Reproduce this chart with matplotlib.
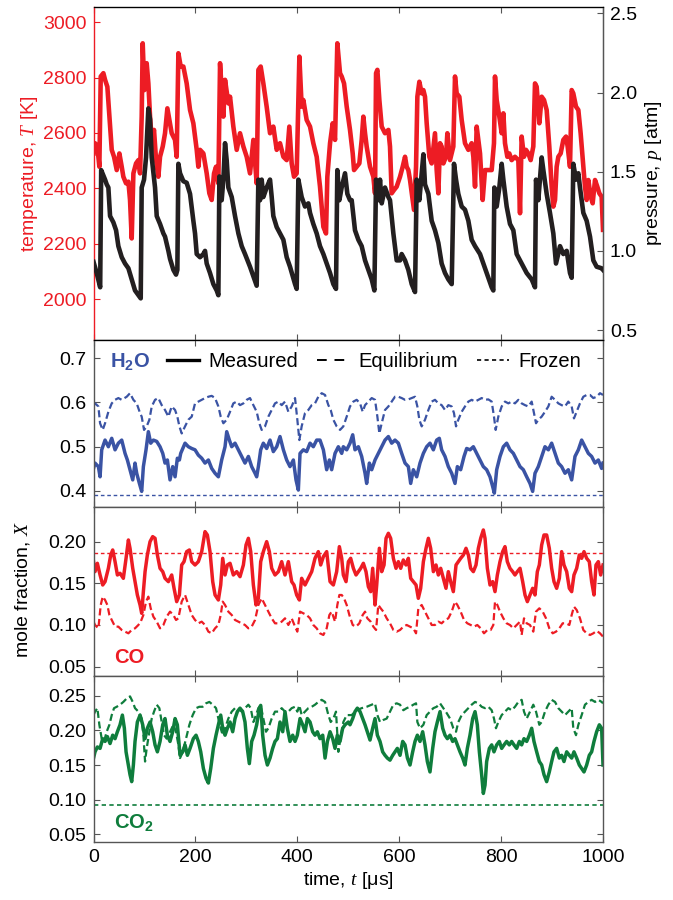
import matplotlib
matplotlib.use('Agg')
import matplotlib.pyplot as plt
from matplotlib.lines import Line2D
import numpy as np

plt.rcParams['font.family'] = ['Liberation Sans', 'DejaVu Sans']
plt.rcParams['mathtext.fontset'] = 'custom'
plt.rcParams['mathtext.it'] = 'Liberation Serif:italic'
plt.rcParams['mathtext.rm'] = 'Liberation Sans'

RED = '#ED1C24'
BLUE = '#3A53A4'
GREEN = '#0F7D3C'
BLACK = '#231F20'

# ---- temperature, T [K] (measured)
t_T = [0, 2.9, 7.5, 11.4, 14.1, 19.3, 22.6, 27.1, 31.1, 35.7, 40.2, 45.5, 50.7, 55.3, 58.5, 63.8, 68.4,
       71.6, 74.9, 78.2, 83.4, 88.0, 91.3, 94.5, 96.5, 99.8, 104.3, 107.6, 110.9, 114.2, 118.7, 122.7,
       127.2, 130.5, 135.8, 140.3, 144.9, 148.8, 153.4, 159.9, 163.2, 166.5, 171.1, 176.3, 182.8, 189.4,
       195.9, 202.5, 205.7, 209.0, 215.6, 222.1, 227.3, 231.9, 236.5, 240.4, 245.0, 248.3, 251.5, 254.8,
       258.1, 264.6, 267.9, 274.4, 281.0, 287.5, 294.1, 300.6, 307.1, 313.7, 320.2, 323.5, 328.1, 333.3,
       339.8, 346.4, 352.9, 359.5, 366.0, 372.6, 379.1, 384.3, 388.9, 393.5, 398.7, 404.0, 408.5, 411.8,
       418.3, 424.9, 431.4, 438.0, 444.5, 451.1, 456.3, 458.9, 464.2, 469.4, 474.0, 478.5, 483.8,
       487.1, 491.7, 496.9, 503.4, 508.7, 511.3, 516.5, 521.7, 526.3, 529.6, 532.9, 536.1, 542.7, 549.2,
       552.5, 554.5, 557.1, 561.0, 565.6, 572.1, 578.7, 581.9, 585.2, 589.8, 595.0, 601.6, 606.8, 611.4,
       614.6, 617.9, 621.2, 626.4, 629.0, 633.0, 635.6, 639.5, 644.1, 647.4, 650.6, 653.9, 659.1, 663.7,
       670.2, 673.5, 676.8, 680.1, 683.3, 686.6, 691.8, 694.5, 699.7, 706.2, 709.5, 712.8, 718.0, 722.6,
       729.1, 735.7, 742.2, 745.5, 748.8, 752.0, 758.6, 763.8, 768.4, 774.9, 781.5, 786.0, 788.0, 791.3,
       796.5, 801.1, 804.4, 807.6, 812.2, 816.1, 820.7, 827.2, 833.8, 837.1, 840.3, 844.9, 848.8, 853.4,
       858.0, 863.2, 866.5, 869.8, 875.0, 879.6, 884.2, 889.4, 894.6, 899.2, 902.5, 905.8, 909.0, 912.3,
       916.9, 922.1, 927.4, 930.6, 935.2, 938.5, 941.7, 947.0, 951.6, 956.1, 961.4, 964.6, 967.9, 971.2,
       975.8, 979.7, 984.3, 988.8, 992.8, 997.3, 1000]
T_meas = [2526, 2563, 2551, 2478, 2804, 2816, 2792, 2767, 2659, 2539, 2514, 2466, 2526, 2478, 2442, 2418,
          2424, 2358, 2219, 2454, 2490, 2502, 2454, 2659, 2924, 2755, 2852, 2779, 2659, 2575, 2611, 2502,
          2442, 2514, 2551, 2599, 2689, 2647, 2599, 2575, 2514, 2888, 2840, 2840, 2779, 2683, 2635, 2539,
          2478, 2539, 2526, 2454, 2382, 2358, 2454, 2478, 2418, 2852, 2755, 2659, 2792, 2707, 2731, 2623,
          2539, 2599, 2551, 2514, 2454, 2575, 2418, 2828, 2840, 2779, 2695, 2599, 2623, 2539, 2563, 2514,
          2502, 2623, 2490, 2442, 2454, 2876, 2695, 2719, 2647, 2623, 2563, 2514, 2406, 2261, 2237, 2442,
          2563, 2635, 2575, 2924, 2816,
          2804, 2779, 2695, 2611, 2526, 2466, 2478, 2490, 2575, 2659, 2599, 2551, 2478, 2442, 2382, 2816,
          2828, 2719, 2623, 2599, 2611, 2551, 2382, 2394, 2406, 2442, 2478, 2514, 2478, 2466, 2430, 2358,
          2322, 2478, 2731, 2785, 2743, 2755, 2731, 2635, 2514, 2490, 2599, 2466, 2382, 2563, 2551, 2490,
          2514, 2599, 2502, 2551, 2804, 2743, 2731, 2647, 2563, 2539, 2563, 2514, 2406, 2623, 2526, 2358,
          2466, 2466, 2466, 2563, 2804, 2719, 2659, 2599, 2671, 2563, 2514, 2526, 2502, 2514, 2502, 2310,
          2587, 2514, 2539, 2526, 2502, 2551, 2779, 2767, 2635, 2731, 2719, 2683, 2551, 2406, 2334, 2358,
          2478, 2514, 2526, 2575, 2587, 2551, 2478, 2755, 2743, 2695, 2683, 2599, 2478, 2406, 2358, 2430,
          2370, 2346, 2430, 2406, 2382, 2370, 2250]

# ---- pressure, p [atm] (measured)
t_p = [0, 6.2, 13, 15, 22.6, 25.8, 29.1, 32.4, 38.9, 44.2, 48.7, 55.3, 61.8, 68.4, 74.9, 81.4, 88.0, 92.6,
       94.5, 99.1, 103.0, 107.6, 110.9, 114.2, 120.7, 124.0, 130.5, 137.1, 140.3, 146.9, 150.1, 156.7,
       161.9, 164.5, 166.5, 169.8, 176.3, 182.8, 189.4, 195.9, 199.2, 202.5, 209.0, 215.6, 218.8, 222.1,
       228.6, 235.2, 241.7, 245.0, 247.0, 251.5, 254.8, 258.1, 261.4, 264.6, 271.2, 277.7, 284.3, 290.8,
       297.3, 307.1, 313.7, 320.2, 323.5, 326.8, 330.0, 333.3, 339.8, 346.4, 349.7, 352.9, 359.5, 366.0,
       372.6, 379.1, 385.6, 395.5, 398.7, 402.0, 408.5, 415.1, 421.6, 424.9, 431.4, 438.0, 444.5, 451.1,
       457.6, 464.2, 470.7, 475.9, 478.5, 482.5, 487.0, 493.6, 498.2, 503.4, 506.7, 513.2, 519.8, 526.3,
       532.9, 539.4, 546.0, 551.2, 554.5, 559.0, 562.3, 565.6, 572.1, 578.7, 581.9, 588.5, 595.0, 601.6,
       604.8, 611.4, 617.9, 624.5, 631.0, 634.3, 639.5, 644.1, 647.4, 650.6, 657.2, 663.7, 670.2, 676.8,
       683.3, 689.9, 696.4, 703.0, 707.5, 711.5, 716.0, 722.6, 729.1, 735.7, 742.2, 748.8, 758.6, 765.1,
       771.6, 781.5, 784.7, 786.7, 791.3, 796.5, 801.1, 804.4, 810.9, 817.4, 824.0, 830.5, 840.3, 850.2,
       860.0, 866.5, 868.5, 873.0, 879.6, 882.9, 889.4, 895.9, 902.5, 907.7, 915.6, 922.1, 928.7, 935.2,
       938.5, 941.7, 947.0, 951.6, 954.8, 961.4, 967.9, 974.5, 981.0, 987.5, 997.3, 1000]
p_meas = [0.93, 0.86, 0.77, 1.51, 1.45, 1.42, 1.40, 1.22, 1.18, 1.13, 1.03, 0.96, 0.92, 0.89, 0.82, 0.75,
          0.72, 0.70, 1.40, 1.45, 1.59, 1.90, 1.83, 1.59, 1.40, 1.22, 1.17, 1.11, 1.09, 1.00, 0.95, 0.88,
          0.85, 0.88, 1.55, 1.49, 1.44, 1.43, 1.36, 1.19, 1.11, 0.98, 0.96, 0.98, 1.00, 0.92, 0.86, 0.79,
          0.75, 0.72, 1.47, 1.32, 1.45, 1.68, 1.57, 1.40, 1.34, 1.22, 1.11, 1.03, 0.98, 0.90, 0.84, 0.78,
          1.45, 1.32, 1.45, 1.34, 1.40, 1.45, 1.34, 1.22, 1.15, 1.11, 1.07, 0.96, 0.90, 0.79, 0.76, 1.45,
          1.34, 1.28, 1.30, 1.24, 1.17, 1.11, 1.03, 0.98, 0.92, 0.86, 0.79, 0.76, 1.51, 1.32, 1.40, 1.49,
          1.36, 1.32, 1.32, 1.13, 1.07, 1.03, 0.94, 0.88, 0.82, 0.75, 1.45, 1.32, 1.45, 1.30, 1.40, 1.34,
          1.32, 1.11, 0.94, 0.94, 0.98, 0.94, 0.88, 0.79, 0.74, 1.45, 1.32, 1.49, 1.61, 1.42, 1.36, 1.19,
          1.13, 1.05, 0.92, 0.86, 0.82, 0.79, 1.55, 1.45, 1.36, 1.28, 1.26, 1.19, 1.07, 1.03, 0.98, 0.92,
          0.86, 0.77, 0.75, 1.40, 1.28, 1.40, 1.55, 1.45, 1.28, 1.17, 1.13, 0.98, 0.92, 0.86, 0.82, 0.77,
          1.45, 1.32, 1.59, 1.51, 1.36, 1.24, 1.11, 0.92, 1.03, 0.98, 1.00, 0.86, 0.83, 1.55, 1.45, 1.49,
          1.40, 1.24, 1.19, 1.09, 0.94, 0.90, 0.89, 0.88]

# ---- H2O mole fraction
t_h2o = [0, 2.9, 9.5, 12.8, 16.0, 22.6, 29.1, 35.7, 42.2, 48.7, 55.3, 61.8, 66.4, 71.6, 76.9, 81.4, 84.7,
         90.0, 94.5, 97.8, 103.0, 107.6, 112.2, 117.4, 124.0, 130.5, 135.8, 140.3, 144.9, 150.1, 155.4,
         160.0, 164.5, 168.5, 171.1, 179.6, 186.1, 192.7, 199.2, 205.7, 212.3, 218.8, 225.4, 231.9, 238.5,
         245.0, 251.5, 258.1, 261.4, 266.6, 271.2, 277.7, 284.3, 290.8, 297.3, 303.9, 310.4, 317.0, 320.2,
         323.5, 328.1, 333.3, 339.8, 346.4, 352.9, 359.5, 366.0, 372.6, 379.1, 385.6, 392.2, 397.4, 402.0,
         405.3, 411.8, 418.3, 424.9, 431.4, 438.0, 444.5, 451.1, 457.6, 462.9, 467.4, 474.0, 480.5,
         487.1, 490.3, 496.9, 503.4, 508.7, 513.2, 519.8, 526.3, 532.9, 536.1, 541.4, 546.0, 552.5, 559.0,
         565.6, 572.1, 578.7, 585.2, 591.7, 598.3, 604.8, 611.4, 617.9, 622.5, 627.7, 634.3, 640.8, 647.4,
         653.9, 660.4, 667.0, 673.5, 678.7, 683.3, 689.9, 696.4, 703.0, 709.5, 714.1, 720.6, 727.2, 732.4,
         739.0, 745.5, 752.0, 758.6, 765.1, 771.6, 778.2, 783.4, 786.7, 791.3, 797.8, 804.4, 810.9, 817.4,
         824.0, 830.5, 837.1, 843.6, 850.2, 856.7, 861.9, 866.5, 873.0, 879.6, 886.1, 892.7, 899.2, 905.8,
         912.3, 918.8, 925.4, 931.9, 938.5, 945.0, 951.6, 958.1, 964.6, 971.2, 977.7, 984.3, 990.8, 997.3,
         1000]
h2o_meas = [0.451, 0.463, 0.455, 0.432, 0.493, 0.515, 0.500, 0.519, 0.493, 0.508, 0.515, 0.485, 0.470,
            0.448, 0.425, 0.463, 0.440, 0.417, 0.399, 0.455, 0.493, 0.534, 0.508, 0.515, 0.512, 0.500,
            0.485, 0.463, 0.470, 0.425, 0.455, 0.432, 0.474, 0.470, 0.485, 0.508, 0.500, 0.496, 0.493,
            0.481, 0.474, 0.463, 0.470, 0.451, 0.440, 0.432, 0.470, 0.500, 0.534, 0.515, 0.500, 0.508,
            0.493, 0.478, 0.463, 0.478, 0.455, 0.440, 0.432, 0.455, 0.493, 0.508, 0.496, 0.515, 0.489,
            0.500, 0.523, 0.493, 0.470, 0.455, 0.470, 0.425, 0.402, 0.485, 0.493, 0.489, 0.508, 0.500,
            0.515, 0.515, 0.493, 0.448, 0.470, 0.448, 0.485, 0.500,
            0.485, 0.500, 0.493, 0.508, 0.527, 0.493, 0.500, 0.478, 0.440, 0.417, 0.463, 0.448, 0.470,
            0.485, 0.500, 0.515, 0.523, 0.508, 0.515, 0.508, 0.485, 0.463, 0.455, 0.417, 0.448, 0.432,
            0.463, 0.485, 0.500, 0.508, 0.493, 0.515, 0.519, 0.493, 0.478, 0.455, 0.440, 0.417, 0.455,
            0.448, 0.478, 0.496, 0.493, 0.500, 0.485, 0.470, 0.455, 0.448, 0.432, 0.410, 0.395, 0.448,
            0.478, 0.500, 0.508, 0.493, 0.485, 0.470, 0.455, 0.448, 0.432, 0.417, 0.399, 0.440, 0.455,
            0.478, 0.500, 0.493, 0.508, 0.485, 0.463, 0.455, 0.440, 0.448, 0.425, 0.478, 0.493, 0.515,
            0.500, 0.485, 0.478, 0.463, 0.470, 0.451, 0.463]

t_h2o_eq = [0, 2.9, 9.5, 12.8, 18.0, 22.6, 29.1, 35.7, 42.2, 48.7, 55.3, 65.1, 71.6, 78.2, 84.7, 91.3,
            94.5, 99.1, 104.3, 109.6, 114.2, 120.7, 127.2, 133.8, 140.3, 146.9, 153.4, 160.0, 164.5, 168.5,
            173.0, 179.6, 186.1, 192.7, 199.2, 205.7, 212.3, 218.8, 225.4, 231.9, 238.5, 245.0, 249.6,
            254.8, 261.4, 267.9, 274.4, 281.0, 287.5, 294.1, 300.6, 307.1, 313.7, 320.2, 325.4, 330.0,
            336.6, 343.1, 349.7, 356.2, 362.8, 369.3, 375.8, 382.4, 388.9, 395.5, 400.0, 404.0, 408.5,
            415.1, 421.6, 428.2, 434.7, 441.2, 447.8, 454.4, 460.9, 465.5, 470.7, 477.2, 483.8,
            490.3, 496.9, 503.4, 510.0, 516.5, 523.1, 528.3, 532.9, 539.4, 546.0, 552.5, 557.1, 561.0,
            565.6, 572.1, 578.7, 585.2, 591.7, 598.3, 604.8, 611.4, 617.9, 624.5, 631.0, 635.6, 639.5,
            644.1, 650.6, 657.2, 663.7, 670.2, 676.8, 683.3, 689.9, 696.4, 703.0, 707.5, 711.5, 716.0,
            722.6, 729.1, 735.7, 742.2, 748.8, 755.3, 761.8, 768.4, 774.9, 781.5, 786.0, 789.3, 794.5,
            801.1, 807.6, 814.2, 820.7, 827.2, 833.8, 840.3, 846.9, 853.4, 860.0, 864.5, 868.5, 873.0,
            879.6, 886.1, 892.7, 899.2, 905.8, 912.3, 918.8, 925.4, 931.9, 938.5, 943.0, 948.3, 954.8,
            961.4, 967.9, 974.5, 981.0, 987.5, 994.1, 1000]
h2o_eq = [0.594, 0.598, 0.591, 0.553, 0.538, 0.553, 0.579, 0.598, 0.606, 0.610, 0.606, 0.613, 0.621,
          0.606, 0.598, 0.576, 0.568, 0.538, 0.546, 0.561, 0.591, 0.606, 0.610, 0.594, 0.583, 0.568,
          0.591, 0.583, 0.568, 0.546, 0.530, 0.546, 0.561, 0.568, 0.598, 0.602, 0.606, 0.610, 0.613,
          0.615, 0.610, 0.591, 0.568, 0.553, 0.561, 0.579, 0.598, 0.602, 0.594, 0.598, 0.606, 0.610,
          0.594, 0.579, 0.553, 0.538, 0.546, 0.568, 0.583, 0.598, 0.602, 0.594, 0.602, 0.579, 0.591,
          0.610, 0.561, 0.515, 0.546, 0.576, 0.583, 0.594, 0.598, 0.613, 0.621, 0.617, 0.594, 0.583,
          0.561, 0.546, 0.538,
          0.546, 0.568, 0.591, 0.602, 0.606, 0.598, 0.579, 0.594, 0.602, 0.610, 0.606, 0.568, 0.530,
          0.553, 0.583, 0.591, 0.602, 0.613, 0.613, 0.610, 0.606, 0.607, 0.610, 0.613, 0.591, 0.561,
          0.546, 0.561, 0.583, 0.602, 0.606, 0.598, 0.594, 0.583, 0.594, 0.591, 0.576, 0.546, 0.561,
          0.579, 0.591, 0.602, 0.606, 0.602, 0.606, 0.610, 0.606, 0.607, 0.602, 0.568, 0.538, 0.568,
          0.591, 0.602, 0.598, 0.602, 0.598, 0.606, 0.598, 0.594, 0.591, 0.602, 0.576, 0.553, 0.561,
          0.568, 0.579, 0.591, 0.613, 0.606, 0.598, 0.594, 0.591, 0.602, 0.591, 0.564, 0.579, 0.598,
          0.613, 0.617, 0.617, 0.610, 0.613, 0.621, 0.617]
h2o_frozen = 0.390

# ---- CO mole fraction
t_co = [0, 2.9, 7.5, 12.8, 18.0, 22.6, 29.1, 33.7, 37.6, 42.2, 46.8, 52.0, 58.5, 63.8, 68.4, 71.6, 76.9,
        81.4, 86.0, 91.3, 94.5, 97.8, 101.1, 105.6, 110.9, 116.1, 120.7, 125.3, 130.5, 135.8, 140.3, 146.9,
        153.4, 158.0, 163.2, 168.5, 173.0, 177.6, 182.8, 188.1, 192.7, 199.2, 205.7, 212.3, 218.8, 223.4,
        228.6, 233.9, 238.5, 245.0, 249.6, 253.5, 258.1, 262.7, 267.9, 274.4, 281.0, 287.5, 294.1, 299.3,
        303.9, 308.5, 313.7, 318.9, 323.5, 328.1, 333.3, 339.8, 345.1, 349.7, 356.2, 362.8, 369.3, 375.8,
        382.4, 388.9, 393.5, 398.7, 404.0, 408.5, 415.1, 421.6, 428.2, 434.7, 441.2, 445.8, 451.1, 457.6,
        464.2, 470.7, 477.2, 482.5,
        487.1, 490.3, 495.6, 500.2, 504.7, 510.0, 515.2, 519.8, 524.4, 529.6, 534.8, 539.4, 544.0, 547.9,
        552.5, 555.8, 561.0, 565.6, 570.2, 574.1, 578.7, 583.2, 588.5, 593.7, 598.3, 602.9, 608.1, 613.3,
        617.9, 622.5, 627.7, 633.0, 637.5, 642.1, 647.4, 652.6, 657.2, 661.7, 667.0, 672.2, 676.8, 681.4,
        686.6, 691.8, 696.4, 701.0, 706.2, 711.5, 716.0, 720.6, 725.9, 731.1, 735.7, 740.2, 745.5, 750.7,
        755.3, 759.9, 765.1, 768.4, 773.0, 778.2, 783.4, 788.0, 792.6, 797.8, 803.0, 807.6, 812.2, 817.4,
        822.7, 827.2, 831.8, 837.1, 842.3, 846.9, 851.5, 856.7, 861.9, 866.5, 871.1, 875.0, 879.6, 884.2,
        889.4, 894.6, 899.2, 903.8, 909.0, 914.3, 918.8, 923.4, 928.7, 933.9, 938.5, 943.0, 948.3, 953.5,
        958.1, 962.7, 967.9, 973.1, 977.7, 982.3, 986.2, 990.8, 995.4, 1000]
co_meas = [0.176, 0.164, 0.174, 0.160, 0.148, 0.152, 0.168, 0.184, 0.190, 0.176, 0.160, 0.162, 0.156,
           0.180, 0.202, 0.192, 0.168, 0.152, 0.136, 0.124, 0.114, 0.140, 0.164, 0.184, 0.200, 0.206,
           0.204, 0.184, 0.168, 0.164, 0.156, 0.152, 0.160, 0.144, 0.128, 0.136, 0.172, 0.176, 0.188,
           0.190, 0.176, 0.172, 0.176, 0.188, 0.212, 0.208, 0.188, 0.152, 0.136, 0.130, 0.148, 0.180,
           0.160, 0.172, 0.174, 0.160, 0.164, 0.158, 0.172, 0.196, 0.204, 0.188, 0.148, 0.124, 0.132,
           0.176, 0.188, 0.200, 0.188, 0.168, 0.160, 0.164, 0.176, 0.160, 0.176, 0.152, 0.148, 0.136,
           0.130, 0.156, 0.148, 0.156, 0.164, 0.180, 0.188, 0.172, 0.182, 0.188, 0.152, 0.148, 0.164,
           0.194,
           0.180, 0.160, 0.152, 0.176, 0.180, 0.168, 0.160, 0.164, 0.168, 0.174, 0.164, 0.146, 0.140,
           0.168, 0.124, 0.148, 0.192, 0.164, 0.172, 0.204, 0.210, 0.204, 0.180, 0.168, 0.176, 0.168,
           0.178, 0.172, 0.180, 0.156, 0.152, 0.148, 0.132, 0.144, 0.176, 0.192, 0.204, 0.192, 0.164,
           0.172, 0.160, 0.168, 0.156, 0.144, 0.164, 0.152, 0.140, 0.172, 0.176, 0.180, 0.184, 0.192,
           0.184, 0.168, 0.164, 0.172, 0.192, 0.204, 0.214, 0.204, 0.168, 0.148, 0.152, 0.140, 0.160,
           0.176, 0.188, 0.194, 0.176, 0.168, 0.164, 0.160, 0.164, 0.168, 0.152, 0.136, 0.128, 0.136,
           0.144, 0.136, 0.164, 0.172, 0.196, 0.208, 0.208, 0.192, 0.168, 0.152, 0.144, 0.156, 0.188,
           0.172, 0.164, 0.144, 0.140, 0.160, 0.168, 0.184, 0.180, 0.188, 0.180, 0.176, 0.152, 0.136,
           0.172, 0.176, 0.160, 0.172]

t_co_eq = [0, 2.9, 9.5, 14.1, 18.0, 22.6, 27.1, 31.1, 35.7, 42.2, 48.7, 55.3, 61.8, 68.4, 74.9, 81.4,
           88.0, 92.6, 97.8, 103.0, 107.6, 112.2, 117.4, 124.0, 130.5, 137.1, 143.6, 150.1, 156.7, 161.9,
           166.5, 173.0, 179.6, 186.1, 192.7, 199.2, 205.7, 212.3, 218.8, 225.4, 231.9, 238.5, 245.0,
           249.6, 253.5, 258.1, 264.6, 271.2, 277.7, 284.3, 290.8, 297.3, 303.9, 310.4, 317.0, 323.5,
           330.0, 336.6, 343.1, 349.7, 356.2, 362.8, 369.3, 375.8, 382.4, 388.9, 395.5, 400.0, 405.3,
           411.8, 418.3, 424.9, 431.4, 438.0, 444.5, 451.1, 457.6, 462.9, 467.4, 474.0, 478.5, 482.5,
           487.1, 491.7, 496.9, 502.1, 508.7, 515.2, 521.7, 528.3, 532.9, 537.4, 544.0, 549.2, 554.5,
           559.0, 563.6, 568.8, 575.4, 581.9, 588.5, 595.0, 601.6, 608.1, 614.6, 621.2, 627.7, 633.0,
           637.5, 644.1, 650.6, 657.2, 663.7, 670.2, 676.8, 683.3, 689.9, 696.4, 703.0, 709.5, 714.1,
           720.6, 727.2, 733.7, 740.2, 746.8, 753.3, 759.9, 766.4, 773.0, 779.5, 784.7, 788.0, 792.6,
           797.8, 804.4, 810.9, 817.4, 824.0, 830.5, 837.1, 840.3, 844.9, 850.2, 856.7, 863.2, 868.5,
           875.0, 881.6, 888.1, 894.6, 901.2, 907.7, 914.3, 920.8, 927.4, 933.9, 938.5, 943.0, 948.3,
           954.8, 961.4, 967.9, 974.5, 981.0, 987.5, 994.1, 1000]
co_eq = [0.104, 0.100, 0.096, 0.124, 0.134, 0.130, 0.124, 0.112, 0.106, 0.098, 0.098, 0.094, 0.092,
         0.090, 0.094, 0.096, 0.100, 0.104, 0.112, 0.128, 0.134, 0.120, 0.110, 0.104, 0.096, 0.100,
         0.110, 0.116, 0.112, 0.106, 0.108, 0.128, 0.136, 0.124, 0.112, 0.106, 0.102, 0.104, 0.100,
         0.092, 0.090, 0.096, 0.100, 0.112, 0.128, 0.124, 0.116, 0.112, 0.106, 0.104, 0.102, 0.100,
         0.096, 0.098, 0.106, 0.124, 0.132, 0.124, 0.116, 0.108, 0.102, 0.102, 0.104, 0.108, 0.100,
         0.108, 0.098, 0.092, 0.116, 0.114, 0.112, 0.108, 0.100, 0.096, 0.090, 0.088, 0.096, 0.112,
         0.116, 0.104, 0.124, 0.136,
         0.136, 0.132, 0.124, 0.112, 0.100, 0.098, 0.102, 0.112, 0.116, 0.108, 0.104, 0.098, 0.094,
         0.124, 0.120, 0.116, 0.108, 0.102, 0.094, 0.092, 0.094, 0.098, 0.100, 0.098, 0.096, 0.090,
         0.120, 0.124, 0.116, 0.108, 0.100, 0.100, 0.104, 0.102, 0.106, 0.108, 0.116, 0.128, 0.124,
         0.116, 0.106, 0.102, 0.100, 0.098, 0.100, 0.096, 0.090, 0.094, 0.094, 0.100, 0.128, 0.124,
         0.116, 0.108, 0.102, 0.100, 0.096, 0.100, 0.104, 0.088, 0.108, 0.102, 0.100, 0.092, 0.116,
         0.120, 0.116, 0.108, 0.096, 0.090, 0.092, 0.096, 0.102, 0.102, 0.100, 0.112, 0.122, 0.118,
         0.108, 0.094, 0.090, 0.088, 0.090, 0.093, 0.090, 0.086]
co_frozen = 0.186

# ---- CO2 mole fraction
t_co2 = [0, 2.9, 7.5, 12.8, 18.0, 22.6, 27.1, 32.4, 37.6, 42.2, 46.8, 52.0, 56.6, 60.5, 63.8, 68.4, 71.6,
         74.9, 78.2, 81.4, 86.0, 91.3, 96.5, 101.1, 105.6, 110.9, 116.1, 120.7, 125.3, 130.5, 135.8, 140.3,
         144.9, 150.1, 155.4, 160.0, 164.5, 169.8, 175.0, 179.6, 184.2, 189.4, 195.9, 201.2, 205.7, 210.4,
         215.6, 220.8, 225.4, 230.0, 235.2, 240.4, 245.0, 249.6, 253.5, 258.1, 262.7, 267.9, 273.1, 277.7,
         282.3, 287.5, 292.7, 297.3, 301.9, 305.8, 310.4, 315.0, 320.2, 325.4, 328.1, 332.0, 336.6, 341.2,
         346.4, 351.6, 356.2, 360.8, 366.0, 371.3, 375.8, 380.4, 385.6, 390.9, 395.5, 400.0, 405.3, 410.5,
         415.1, 419.7, 424.9, 430.1, 434.7, 439.3, 444.5, 449.8, 454.4, 459.0, 464.2, 469.4, 474.0, 478.5,
         483.8, 489.0, 493.6, 500.2,
         503.4, 508.7, 513.2, 517.8, 523.1, 528.3, 532.9, 537.4, 542.7, 547.9, 552.5, 557.1, 562.3, 567.5,
         572.1, 576.7, 581.9, 587.2, 591.7, 596.3, 601.6, 606.8, 611.4, 616.1, 621.2, 626.4, 631.0, 635.6,
         640.8, 646.0, 650.6, 655.2, 660.4, 665.7, 670.2, 674.8, 680.1, 685.3, 689.9, 694.5, 699.7, 704.9,
         709.5, 714.1, 719.3, 724.6, 729.1, 733.7, 738.9, 744.2, 748.8, 753.3, 757.3, 761.8, 765.1, 768.4,
         771.6, 776.9, 781.5, 786.0, 791.3, 796.5, 801.1, 805.7, 810.9, 816.1, 820.7, 825.3, 830.5, 835.8,
         840.3, 844.9, 850.2, 855.4, 860.0, 864.5, 869.8, 875.0, 879.6, 884.2, 889.4, 894.6, 899.2, 903.8,
         909.0, 914.3, 918.8, 923.4, 928.7, 933.9, 938.5, 943.0, 948.3, 953.5, 958.1, 962.7, 967.9, 973.1,
         977.7, 982.3, 987.5, 992.8, 997.3, 1000]
co2_meas = [0.160, 0.169, 0.176, 0.174, 0.188, 0.184, 0.191, 0.181, 0.193, 0.188, 0.198, 0.208, 0.222,
            0.203, 0.169, 0.150, 0.136, 0.126, 0.150, 0.184, 0.212, 0.222, 0.208, 0.188, 0.203, 0.212,
            0.198, 0.179, 0.169, 0.184, 0.208, 0.217, 0.193, 0.184, 0.198, 0.217, 0.208, 0.164, 0.169,
            0.179, 0.164, 0.174, 0.188, 0.193, 0.184, 0.169, 0.145, 0.131, 0.124, 0.145, 0.174, 0.193,
            0.208, 0.222, 0.203, 0.193, 0.203, 0.212, 0.198, 0.217, 0.227, 0.232, 0.227, 0.212, 0.174,
            0.152, 0.184, 0.193, 0.208, 0.232, 0.236, 0.193, 0.164, 0.150, 0.160, 0.174, 0.184, 0.188,
            0.212, 0.198, 0.227, 0.203, 0.184, 0.193, 0.184, 0.193, 0.217, 0.208, 0.198, 0.217, 0.212,
            0.198, 0.193, 0.198, 0.188, 0.193, 0.160, 0.184, 0.198, 0.188, 0.174, 0.193, 0.184, 0.203,
            0.208, 0.212,
            0.208, 0.217, 0.227, 0.232, 0.227, 0.217, 0.208, 0.198, 0.186, 0.203, 0.217, 0.193, 0.184,
            0.169, 0.164, 0.160, 0.157, 0.164, 0.169, 0.174, 0.164, 0.184, 0.179, 0.160, 0.150, 0.169,
            0.184, 0.193, 0.184, 0.198, 0.179, 0.155, 0.140, 0.174, 0.198, 0.212, 0.227, 0.203, 0.193,
            0.188, 0.193, 0.184, 0.188, 0.179, 0.169, 0.160, 0.150, 0.174, 0.193, 0.217, 0.227, 0.208,
            0.169, 0.136, 0.109, 0.121, 0.155, 0.174, 0.179, 0.169, 0.179, 0.184, 0.174, 0.179, 0.184,
            0.179, 0.184, 0.179, 0.174, 0.184, 0.179, 0.188, 0.184, 0.193, 0.203, 0.184, 0.169, 0.155,
            0.150, 0.136, 0.126, 0.140, 0.155, 0.169, 0.174, 0.160, 0.164, 0.155, 0.169, 0.164, 0.160,
            0.169, 0.160, 0.150, 0.145, 0.140, 0.150, 0.164, 0.169, 0.184, 0.198, 0.208, 0.203, 0.150]

t_co2_eq = [0, 2.9, 7.5, 11.4, 16.0, 20.6, 25.8, 31.1, 35.7, 40.2, 45.5, 52.0, 58.5, 65.1, 71.6, 76.9,
            81.4, 88.0, 94.5, 97.8, 101.1, 104.3, 109.6, 114.2, 118.7, 124.0, 129.2, 133.8, 138.4, 143.6,
            150.1, 156.7, 161.9, 166.5, 169.8, 175.0, 181.5, 188.1, 194.6, 201.2, 207.6, 214.2, 220.8,
            227.3, 233.9, 240.4, 245.0, 249.6, 253.5, 258.1, 264.6, 271.2, 277.7, 284.3, 290.8, 297.3,
            303.9, 308.5, 313.7, 318.9, 323.5, 328.1, 333.3, 338.5, 343.1, 349.7, 356.2, 362.8, 369.3,
            375.8, 382.4, 388.9, 395.5, 400.0, 404.0, 408.5, 415.1, 421.6, 428.2, 434.7, 441.2, 447.8,
            454.4, 460.9, 465.5, 470.7, 475.9, 480.5, 483.8, 490.3, 496.9,
            506.7, 516.5, 526.3, 536.1, 546.0, 552.5, 557.1, 562.3, 568.8, 575.4, 581.9, 588.5, 595.0,
            601.6, 608.1, 614.6, 621.2, 627.7, 633.0, 635.6, 640.8, 647.4, 653.9, 660.4, 667.0, 673.5,
            680.1, 686.6, 693.1, 699.7, 706.2, 711.5, 716.0, 722.6, 729.1, 735.7, 742.2, 748.8, 755.3,
            761.8, 768.4, 774.9, 781.5, 786.0, 789.9, 794.5, 801.1, 807.6, 814.2, 820.7, 827.2, 833.8,
            840.3, 844.9, 850.2, 856.7, 863.2, 868.5, 875.0, 879.6, 886.1, 892.7, 899.2, 905.8, 912.3,
            918.8, 925.4, 931.9, 938.5, 941.7, 947.0, 951.6, 958.1, 964.6, 971.2, 977.7, 984.3, 990.8,
            997.3, 1000]
co2_eq = [0.222, 0.227, 0.232, 0.208, 0.188, 0.184, 0.198, 0.208, 0.222, 0.232, 0.234, 0.237, 0.241,
          0.246, 0.249, 0.241, 0.232, 0.227, 0.217, 0.193, 0.155, 0.174, 0.198, 0.217, 0.227, 0.237,
          0.232, 0.212, 0.193, 0.188, 0.198, 0.208, 0.198, 0.179, 0.160, 0.169, 0.188, 0.208, 0.222,
          0.232, 0.234, 0.234, 0.239, 0.241, 0.237, 0.232, 0.217, 0.203, 0.193, 0.203, 0.217, 0.227,
          0.232, 0.232, 0.227, 0.232, 0.237, 0.232, 0.212, 0.222, 0.232, 0.236, 0.217, 0.198, 0.203,
          0.217, 0.227, 0.227, 0.232, 0.227, 0.227, 0.232, 0.234, 0.227, 0.236, 0.222, 0.227, 0.232,
          0.234, 0.237, 0.241, 0.244, 0.241, 0.222, 0.212, 0.217, 0.227, 0.169, 0.184, 0.212, 0.222,
          0.222, 0.229, 0.232, 0.234, 0.237, 0.239, 0.222, 0.212, 0.215, 0.217, 0.227, 0.237, 0.239,
          0.237, 0.229, 0.232, 0.234, 0.237, 0.239, 0.212, 0.203, 0.208, 0.222, 0.227, 0.232, 0.234,
          0.239, 0.232, 0.225, 0.217, 0.203, 0.198, 0.212, 0.222, 0.227, 0.232, 0.237, 0.241, 0.239,
          0.234, 0.232, 0.234, 0.229, 0.217, 0.203, 0.212, 0.222, 0.227, 0.232, 0.229, 0.234, 0.241,
          0.244, 0.227, 0.217, 0.227, 0.237, 0.227, 0.208, 0.212, 0.227, 0.237, 0.244, 0.241, 0.232,
          0.227, 0.222, 0.227, 0.232, 0.203, 0.193, 0.208, 0.222, 0.237, 0.241, 0.244, 0.241, 0.244,
          0.241, 0.239]
co2_frozen = 0.093

x_ticks = [0, 200, 400, 600, 800, 1000]

EQ_DASH = (0, (3.2, 1.6))
FR_DASH = (0, (2.6, 2.0))
FS = 14
SPINE = '#555555'

fig = plt.figure(figsize=(6.73, 9), dpi=100)
L, W = 0.139, 0.757
ax_T = fig.add_axes([L, 0.6222, W, 0.370])
ax_h = fig.add_axes([L, 0.4367, W, 0.1856])
ax_c = fig.add_axes([L, 0.2489, W, 0.1878])
ax_d = fig.add_axes([L, 0.0644, W, 0.1845])


def style(ax, bottom_labels=False):
    ax.set_xlim(0, 1000)
    ax.set_xticks(x_ticks)
    ax.tick_params(direction='in', length=4, width=0.8, labelsize=FS, top=True, pad=5,
                   labelbottom=bottom_labels, color=SPINE)
    for s in ax.spines.values():
        s.set_color(SPINE)
        s.set_linewidth(1.0)


# top: temperature and pressure
ax_T.plot(t_T, T_meas, color=RED, lw=3.3, solid_joinstyle='round')
ax_T.set_ylim(1852, 3055)
ax_T.set_yticks([2000, 2200, 2400, 2600, 2800, 3000])
style(ax_T)
ax_T.tick_params(axis='y', colors=RED, right=False)
ax_T.spines['left'].set_color(RED)
ax_T.set_ylabel('temperature, $T$ [K]', color=RED, fontsize=FS, labelpad=2)

ax_p = ax_T.twinx()
ax_p.plot(t_p, p_meas, color=BLACK, lw=3.3, solid_joinstyle='round')
ax_p.set_ylim(0.437, 2.54)
ax_p.set_yticks([0.5, 1.0, 1.5, 2.0, 2.5])
ax_p.set_yticklabels(['0.5', '1.0', '1.5', '2.0', '2.5'])
ax_p.tick_params(direction='in', length=4, width=0.8, labelsize=FS, color=SPINE, pad=5)
ax_p.spines['left'].set_visible(False)
ax_p.spines['right'].set_color(SPINE)
ax_p.set_ylabel('pressure, $p$ [atm]', fontsize=FS, labelpad=4)

# H2O
ax_h.plot(t_h2o_eq, h2o_eq, color=BLUE, lw=1.6, ls=EQ_DASH)
ax_h.axhline(h2o_frozen, color=BLUE, lw=1.0, ls=FR_DASH)
ax_h.plot(t_h2o, h2o_meas, color=BLUE, lw=2.5, solid_joinstyle='round')
ax_h.set_ylim(0.3638, 0.7414)
ax_h.set_yticks([0.4, 0.5, 0.6, 0.7])
ax_h.set_yticklabels(['0.4', '0.5', '0.6', '0.7'])
style(ax_h)
ax_h.tick_params(axis='y', right=True)
ax_h.text(0.032, 0.87, 'H$_\\mathregular{2}$O', transform=ax_h.transAxes, color=BLUE,
          fontsize=14.5, fontweight='bold', va='center', ha='left')
handles = [Line2D([], [], color='black', lw=2.4),
           Line2D([], [], color='black', lw=1.4, ls=(0, (5, 4))),
           Line2D([], [], color='black', lw=1.2, ls=(0, (2.5, 2.0)))]
ax_h.legend(handles, ['Measured', 'Equilibrium', 'Frozen'], ncol=3, frameon=False,
            fontsize=14.5, loc='center left', bbox_to_anchor=(0.144, 0.87), handlelength=1.6,
            columnspacing=0.95, handletextpad=0.45, borderpad=0, borderaxespad=0)

# CO
ax_c.plot(t_co_eq, co_eq, color=RED, lw=1.6, ls=EQ_DASH)
ax_c.axhline(co_frozen, color=RED, lw=1.0, ls=FR_DASH)
ax_c.plot(t_co, co_meas, color=RED, lw=2.5, solid_joinstyle='round')
ax_c.set_ylim(0.0388, 0.2416)
ax_c.set_yticks([0.05, 0.10, 0.15, 0.20])
ax_c.set_yticklabels(['0.05', '0.10', '0.15', '0.20'])
style(ax_c)
ax_c.tick_params(axis='y', right=True)
ax_c.text(0.04, 0.11, 'CO', transform=ax_c.transAxes, color=RED,
          fontsize=14.5, fontweight='bold', va='center', ha='left')

# CO2
ax_d.plot(t_co2_eq, co2_eq, color=GREEN, lw=1.6, ls=EQ_DASH)
ax_d.axhline(co2_frozen, color=GREEN, lw=1.2, ls=FR_DASH)
ax_d.plot(t_co2, co2_meas, color=GREEN, lw=2.5, solid_joinstyle='round')
ax_d.set_ylim(0.0389, 0.2784)
ax_d.set_yticks([0.05, 0.10, 0.15, 0.20, 0.25])
ax_d.set_yticklabels(['0.05', '0.10', '0.15', '0.20', '0.25'])
style(ax_d, bottom_labels=True)
ax_d.tick_params(axis='y', right=True)
ax_d.text(0.04, 0.12, 'CO$_\\mathregular{2}$', transform=ax_d.transAxes, color=GREEN,
          fontsize=14.5, fontweight='bold', va='center', ha='left')
ax_d.set_xlabel('time, $t$ [\u03bcs]', fontsize=FS, labelpad=3)

fig.text(0.033, 0.345, 'mole fraction, $X$', rotation=90, fontsize=FS, va='center', ha='center')

fig.savefig('out.png', dpi=100)
